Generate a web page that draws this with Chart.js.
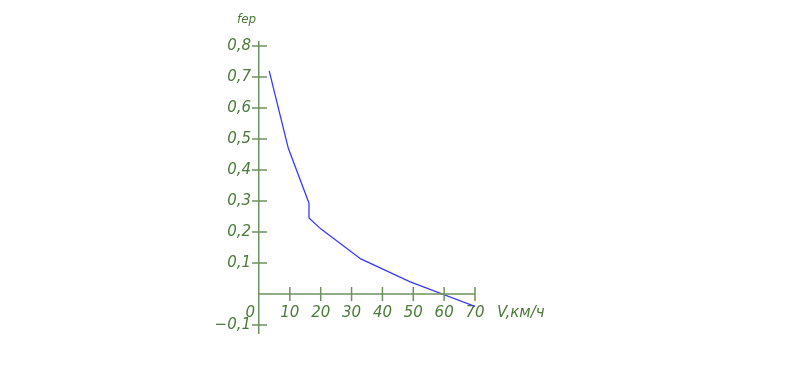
<!DOCTYPE html>
<html lang="ru">
<head>
    <meta charset="UTF-8">
    <title>fер(V)</title>
    <script src="https://cdn.jsdelivr.net/npm/chart.js"></script>
    <style>
        html, body { margin: 0; padding: 0; background: #fff; }
        .chart-wrapper { position: relative; width: 785px; height: 378px; }
    </style>
</head>
<body>
    <div class="chart-wrapper">
        <canvas id="fChart"></canvas>
    </div>
    <script>
        // Скорость, км/ч и коэффициент f
        const speedV = [3.3, 9.5, 16.2, 16.2, 20, 33, 49, 70];
        const coefF = [0.72, 0.47, 0.293, 0.245, 0.21, 0.113, 0.039, -0.04];
        const xTicks = [0, 10, 20, 30, 40, 50, 60, 70];
        const yTicks = [-0.1, 0, 0.1, 0.2, 0.3, 0.4, 0.5, 0.6, 0.7, 0.8];

        const axisColor = '#6f9160';
        const textColor = '#4b7a3a';
        const font = { family: 'DejaVu Sans', size: 15, style: 'italic', weight: 'normal' };

        // крестики делений, подпись начала и названия осей
        const axisMarks = {
            id: 'axisMarks',
            afterDraw(chart) {
                const ctx = chart.ctx;
                const xs = chart.scales.x, ys = chart.scales.y;
                const x0 = xs.getPixelForValue(0), y0 = ys.getPixelForValue(0);
                ctx.save();
                ctx.strokeStyle = axisColor;
                ctx.lineWidth = 1.5;
                ctx.beginPath();
                // ось X до 70
                ctx.moveTo(x0, y0);
                ctx.lineTo(xs.getPixelForValue(70), y0);
                xTicks.forEach(v => {
                    if (v === 0) return;
                    const px = xs.getPixelForValue(v);
                    ctx.moveTo(px, y0 - 7);
                    ctx.lineTo(px, y0 + 7);
                });
                yTicks.forEach(v => {
                    if (v === 0) return;
                    const py = ys.getPixelForValue(v);
                    ctx.moveTo(x0 - 7, py);
                    ctx.lineTo(x0 + 8, py);
                });
                ctx.stroke();

                ctx.fillStyle = textColor;
                ctx.font = 'italic 15px "DejaVu Sans"';
                ctx.textBaseline = 'middle';
                ctx.textAlign = 'right';
                ctx.fillText('0', x0 - 4, y0 + 19);
                ctx.textAlign = 'left';
                ctx.fillText('V,км/ч', xs.getPixelForValue(70) + 22, y0 + 19);
                ctx.font = 'italic 12px "DejaVu Sans"';
                ctx.fillText('fер', x0 - 22, ys.top - 22);
                ctx.restore();
            }
        };

        const ctx = document.getElementById('fChart').getContext('2d');
        new Chart(ctx, {
            type: 'line',
            data: {
                datasets: [{
                    data: speedV.map((v, i) => ({ x: v, y: coefF[i] })),
                    borderColor: '#3a3aff',
                    borderWidth: 1.3,
                    pointRadius: 0,
                    tension: 0,
                    fill: false
                }]
            },
            options: {
                responsive: true,
                maintainAspectRatio: false,
                animation: false,
                layout: { padding: { left: 0, right: 310, top: 42, bottom: 45 } },
                plugins: {
                    legend: { display: false },
                    tooltip: { enabled: false }
                },
                scales: {
                    x: {
                        type: 'linear',
                        position: { y: 0 },
                        min: 0,
                        max: 70,
                        afterBuildTicks: s => { s.ticks = xTicks.map(v => ({ value: v })); },
                        grid: { display: false, drawTicks: false },
                        border: { display: false },
                        ticks: {
                            color: textColor,
                            font: font,
                            padding: 10,
                            maxRotation: 0,
                            callback: v => v === 0 ? '' : String(v)
                        }
                    },
                    y: {
                        type: 'linear',
                        position: 'left',
                        min: -0.126,
                        max: 0.813,
                        afterBuildTicks: s => { s.ticks = yTicks.map(v => ({ value: v })); },
                        afterFit: s => { s.width = 259; },
                        grid: { display: false, drawTicks: false },
                        border: { display: true, color: axisColor, width: 1.5 },
                        ticks: {
                            color: textColor,
                            font: font,
                            padding: 8,
                            callback: v => {
                                if (Math.abs(v) < 1e-9) return '';
                                return (v < 0 ? '\u2212' : '') + Math.abs(v).toFixed(1).replace('.', ',');
                            }
                        }
                    }
                }
            },
            plugins: [axisMarks]
        });
    </script>
</body>
</html>
